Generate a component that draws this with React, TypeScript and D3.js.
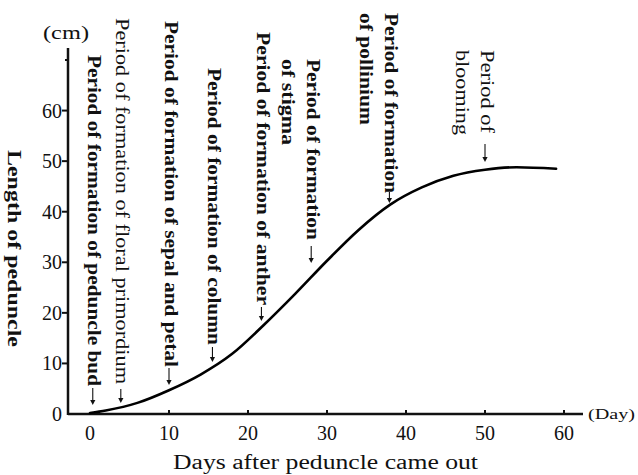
import React from "react";
import * as d3 from "d3";

// ---- data ----
const days = [0, 2, 6, 10, 14, 18, 22, 26, 30, 34, 38, 42, 46, 50, 54, 59];
const lengths = [0.2, 0.7, 2.2, 4.7, 7.8, 11.9, 17.6, 23.8, 30.3, 36.4, 41.4, 44.8, 47.1, 48.3, 48.8, 48.5];

const xTicks = [0, 10, 20, 30, 40, 50, 60];
const yTicks = [0, 10, 20, 30, 40, 50, 60, 70];
const yTickLabels = ["0", "10", "20", "30", "40", "50", "60", ""];

const stageDays = [0.35, 3.9, 10, 15.5, 21.7, 28, 37.9, 50];
const stageLines = [
  ["Period of formation of peduncle bud"],
  ["Period of formation of floral primordium"],
  ["Period of formation of sepal and petal"],
  ["Period of formation of column"],
  ["Period of formation of anther"],
  ["Period of formation", "of stigma"],
  ["Period of formation", "of pollinium"],
  ["Period of", "blooming"],
];
const stageBold = [true, false, true, true, true, true, true, false];

// ---- layout (annotation placement, not data) ----
const labelStartY = [55, 18, 21, 68, 32, 59, 13, 50];
const labelEndY = [[386], [384], [367], [345], [305], [240, 145], [193, 125], [133, 135]];
const arrowTipY = [405, 403, 385, 362, 321, 263, 203, 162];
const arrowLen = [17, 14, 17, 15, 14, 17, 11, 18];

const W = 638;
const H = 475;
const FONT = "'Liberation Serif', 'Times New Roman', serif";

export default function App() {
  const x = d3.scaleLinear().domain([0, 60]).range([90, 564]);
  const y = d3.scaleLinear().domain([0, 70]).range([414, 60]);
  const axisX0 = 68;
  const axisX1 = 583;
  const axisTop = 48;

  const pts = days.map((d, i) => [d, lengths[i]] as [number, number]);
  const line = d3
    .line<[number, number]>()
    .x((d) => x(d[0]))
    .y((d) => y(d[1]))
    .curve(d3.curveMonotoneX);

  return (
    <svg
      width={W}
      height={H}
      style={{ position: "absolute", left: 0, top: 0, background: "#fff" }}
      fontFamily={FONT}
    >
      <rect width={W} height={H} fill="#fff" />
      {/* axes */}
      <line x1={axisX0} y1={y(0)} x2={axisX1} y2={y(0)} stroke="#111" strokeWidth={2.5} />
      <line x1={axisX0} y1={y(0) + 1} x2={axisX0} y2={axisTop} stroke="#111" strokeWidth={2.5} />
      {yTicks.map((v, i) => (
        <g key={"yt" + v}>
          {v > 0 && (
            <line
              x1={axisX0 - (yTickLabels[i] ? 6 : 3)}
              x2={axisX0}
              y1={y(v)}
              y2={y(v)}
              stroke="#111"
              strokeWidth={2}
            />
          )}
          {yTickLabels[i] && (
            <text x={62} y={y(v) + 7} fontSize={20} textAnchor="end" fill="#111">
              {yTickLabels[i]}
            </text>
          )}
        </g>
      ))}
      {xTicks.map((v) => (
        <g key={"xt" + v}>
          {v > 0 && (
            <line x1={x(v)} x2={x(v)} y1={y(0)} y2={y(0) - 4} stroke="#111" strokeWidth={2} />
          )}
          <text x={x(v)} y={440} fontSize={20} textAnchor="middle" fill="#111">
            {v}
          </text>
        </g>
      ))}
      <text x={43} y={39} fontSize={19} textLength={46} lengthAdjust="spacingAndGlyphs" fill="#111">
        (cm)
      </text>
      <text x={588} y={419} fontSize={15} textLength={47} lengthAdjust="spacingAndGlyphs" fill="#111">
        (Day)
      </text>
      <text x={173} y={469} fontSize={20} textLength={305} lengthAdjust="spacingAndGlyphs" fill="#111">
        Days after peduncle came out
      </text>
      <text
        transform={`translate(8,150) rotate(90)`}
        fontSize={19}
        fontWeight="bold"
        textLength={197}
        lengthAdjust="spacingAndGlyphs"
        fill="#111"
      >
        Length of peduncle
      </text>

      {/* curve */}
      <path d={line(pts) || ""} fill="none" stroke="#000" strokeWidth={2.6} strokeLinecap="round" />

      {/* stage labels */}
      {stageLines.map((lines, i) => {
        const ax = x(stageDays[i]);
        const bx = ax - 4.5;
        const tip = arrowTipY[i];
        const top = tip - arrowLen[i];
        return (
          <g key={"st" + i}>
            {lines.map((t, j) => (
              <text
                key={j}
                transform={`translate(${bx - j * 25},${labelStartY[i]}) rotate(90)`}
                fontSize={18}
                fontWeight={stageBold[i] ? "bold" : "normal"}
                textLength={labelEndY[i][j] - labelStartY[i]}
                lengthAdjust="spacingAndGlyphs"
                fill="#111"
              >
                {t}
              </text>
            ))}
            <line x1={ax} x2={ax} y1={top} y2={tip - 3} stroke="#111" strokeWidth={1.1} />
            <path d={`M${ax - 2.6},${tip - 5} L${ax + 2.6},${tip - 5} L${ax},${tip} Z`} fill="#111" />
          </g>
        );
      })}
    </svg>
  );
}
